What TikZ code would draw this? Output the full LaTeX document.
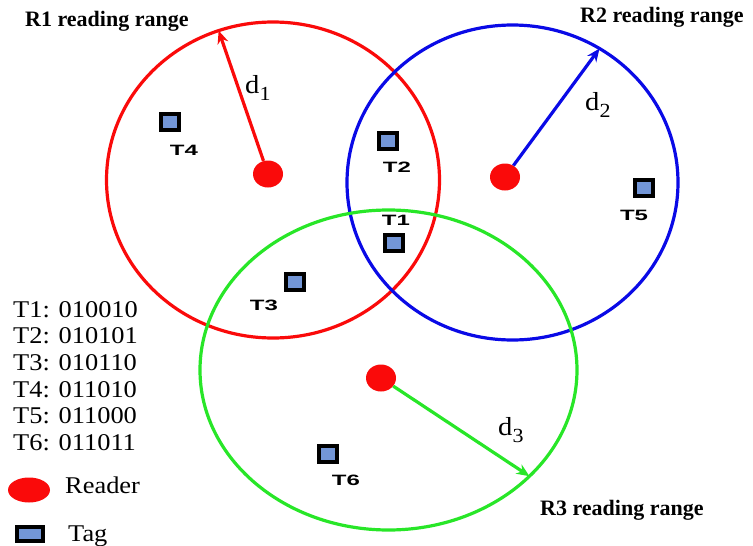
\documentclass[tikz,border=0pt]{standalone}
\usepackage{fontspec}
\setmainfont{Liberation Serif}
\newfontfamily\tagfont{Liberation Sans}
\usetikzlibrary{shapes.geometric,arrows.meta}

\definecolor{rangered}{RGB}{250,10,10}
\definecolor{rangeblue}{RGB}{10,10,230}
\definecolor{rangegreen}{RGB}{40,230,40}
\definecolor{tagblue}{RGB}{115,150,215}

% stretched text and distance labels
\newcommand{\wide}[2]{\scalebox{#1}[1]{#2}}
\newcommand{\dist}[1]{d\raisebox{-7pt}{\fontsize{20}{20}\selectfont #1}}

\tikzset{
  readrange/.style={ellipse, draw, line width=3.2pt, inner sep=0pt, outer sep=0pt},
  reader/.style={ellipse, fill=rangered, minimum width=30pt, minimum height=27pt, inner sep=0pt},
  tagbox/.style={rectangle, draw=black, line width=3.8pt, fill=tagblue,
    minimum width=18pt, minimum height=16pt, inner sep=0pt},
  taglabel/.style={font=\tagfont\bfseries\fontsize{15}{15}\selectfont, inner sep=0pt},
  rangelabel/.style={font=\bfseries\fontsize{22}{22}\selectfont, inner sep=0pt, anchor=base west},
  codeline/.style={font=\fontsize{24}{24}\selectfont, inner sep=0pt, anchor=base west},
  distlabel/.style={font=\fontsize{26}{26}\selectfont, inner sep=0pt, anchor=base west},
  distarrow/.style={line width=3.2pt, -{Stealth[length=13pt,width=11pt]}},
}

\begin{document}
\begin{tikzpicture}[x=1pt,y=-1pt]
\useasboundingbox (0,0) rectangle (753,546);

% reading ranges
\node[readrange, draw=rangered, minimum width=333pt, minimum height=316pt] (range1) at (273,180) {};
\node[readrange, draw=rangeblue, minimum width=331pt, minimum height=315pt] (range2) at (512.5,182.5) {};
\node[readrange, draw=rangegreen, minimum width=377pt, minimum height=320pt] (range3) at (388.5,370) {};

\node[rangelabel] (name1) at (25,27) {R1 reading range};
\node[rangelabel] (name2) at (580,22) {R2 reading range};
\node[rangelabel] (name3) at (540,515) {R3 reading range};

% readers and their radii
\node[reader] (reader1) at (268,174) {};
\node[reader] (reader2) at (505,177) {};
\node[reader] (reader3) at (381,378) {};

\draw[distarrow, rangered] (reader1) -- (range1.110.6);
\draw[distarrow, rangeblue] (reader2) -- (range2.57.2);
\draw[distarrow, rangegreen] (reader3) -- (range3.-37.7);

\node[distlabel] (dist1) at (245,93) {\wide{1.1}{\dist{1}}};
\node[distlabel] (dist2) at (585,110) {\wide{1.1}{\dist{2}}};
\node[distlabel] (dist3) at (498,435) {\wide{1.1}{\dist{3}}};

% tags
\node[tagbox] (tag1) at (394,243) {};
\node[tagbox] (tag2) at (388,141) {};
\node[tagbox] (tag3) at (295,282) {};
\node[tagbox] (tag4) at (170,122) {};
\node[tagbox] (tag5) at (644,188) {};
\node[tagbox] (tag6) at (328,454) {};

\node[taglabel] (label1) at (396,220) {\wide{1.6}{T1}};
\node[taglabel] (label2) at (397,167) {\wide{1.6}{T2}};
\node[taglabel] (label3) at (264,305) {\wide{1.6}{T3}};
\node[taglabel] (label4) at (184,150) {\wide{1.6}{T4}};
\node[taglabel] (label5) at (634,215) {\wide{1.6}{T5}};
\node[taglabel] (label6) at (346,480) {\wide{1.6}{T6}};

% tag codes
\node[codeline] (code1) at (13,317) {\wide{1.1}{T1: 010010}};
\node[codeline] (code2) at (13,343.7) {\wide{1.1}{T2: 010101}};
\node[codeline] (code3) at (13,370.4) {\wide{1.1}{T3: 010110}};
\node[codeline] (code4) at (13,397.1) {\wide{1.1}{T4: 011010}};
\node[codeline] (code5) at (13,423.8) {\wide{1.1}{T5: 011000}};
\node[codeline] (code6) at (13,450.5) {\wide{1.1}{T6: 011011}};

% key
\node[reader, minimum width=42pt, minimum height=25pt] (keyreader) at (29,490) {};
\node[codeline] (keyreadertext) at (65,493) {\wide{1.1}{Reader}};
\node[tagbox, minimum width=26.5pt, minimum height=14.5pt] (keytag) at (30,534) {};
\node[codeline] (keytagtext) at (68,541) {\wide{1.1}{Tag}};
\end{tikzpicture}
\end{document}
